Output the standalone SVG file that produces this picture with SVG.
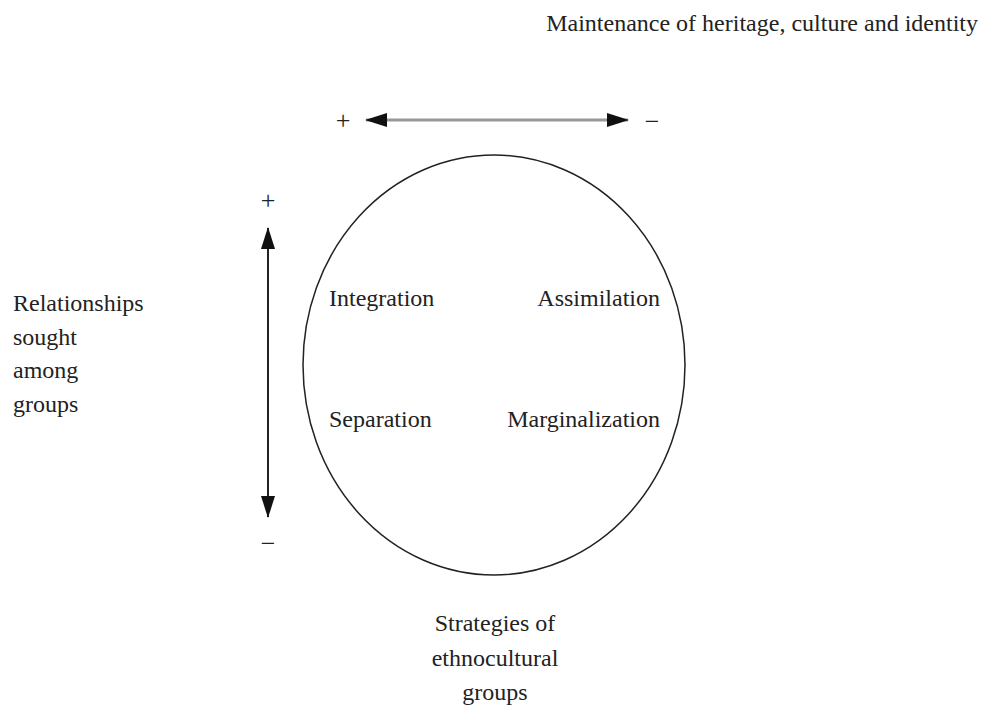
<svg xmlns="http://www.w3.org/2000/svg" width="992" height="710" viewBox="0 0 992 710">
<defs>
<style>
text{font-family:"Liberation Serif","Times New Roman",serif;font-size:24px;fill:#222}
.c{text-anchor:middle}
.e{text-anchor:end}
.s{font-size:26px}
</style>
<marker id="ah" markerWidth="22" markerHeight="14" refX="21" refY="7" orient="auto-start-reverse" markerUnits="userSpaceOnUse">
<path d="M0,0 L22,7 L0,14 Z" fill="#111"/>
</marker>
</defs>
<rect width="992" height="710" fill="#fff"/>
<g id="title"><text class="e" x="978" y="31">Maintenance of heritage, culture and identity</text></g>
<g id="connectors">
<line x1="366" y1="120" x2="628" y2="120" stroke="#999" stroke-width="3" marker-start="url(#ah)" marker-end="url(#ah)"/>
<line x1="268" y1="228" x2="268" y2="517" stroke="#222" stroke-width="2" marker-start="url(#ah)" marker-end="url(#ah)"/>
</g>
<g id="signs">
<text class="c s" x="343" y="129">+</text>
<text class="c s" x="652" y="130">−</text>
<text class="c s" x="268" y="209">+</text>
<text class="c s" x="268" y="552">−</text>
</g>
<g id="circle">
<ellipse cx="494" cy="365" rx="191" ry="210" fill="none" stroke="#222" stroke-width="1.5"/>
<text x="329" y="306">Integration</text>
<text class="e" x="660" y="306">Assimilation</text>
<text x="329" y="427">Separation</text>
<text class="e" x="660" y="427">Marginalization</text>
</g>
<g id="left-label">
<text x="13" y="311">Relationships</text>
<text x="13" y="345">sought</text>
<text x="13" y="378">among</text>
<text x="13" y="412">groups</text>
</g>
<g id="bottom-label">
<text class="c" x="495" y="631">Strategies of</text>
<text class="c" x="495" y="666">ethnocultural</text>
<text class="c" x="495" y="700">groups</text>
</g>
</svg>
